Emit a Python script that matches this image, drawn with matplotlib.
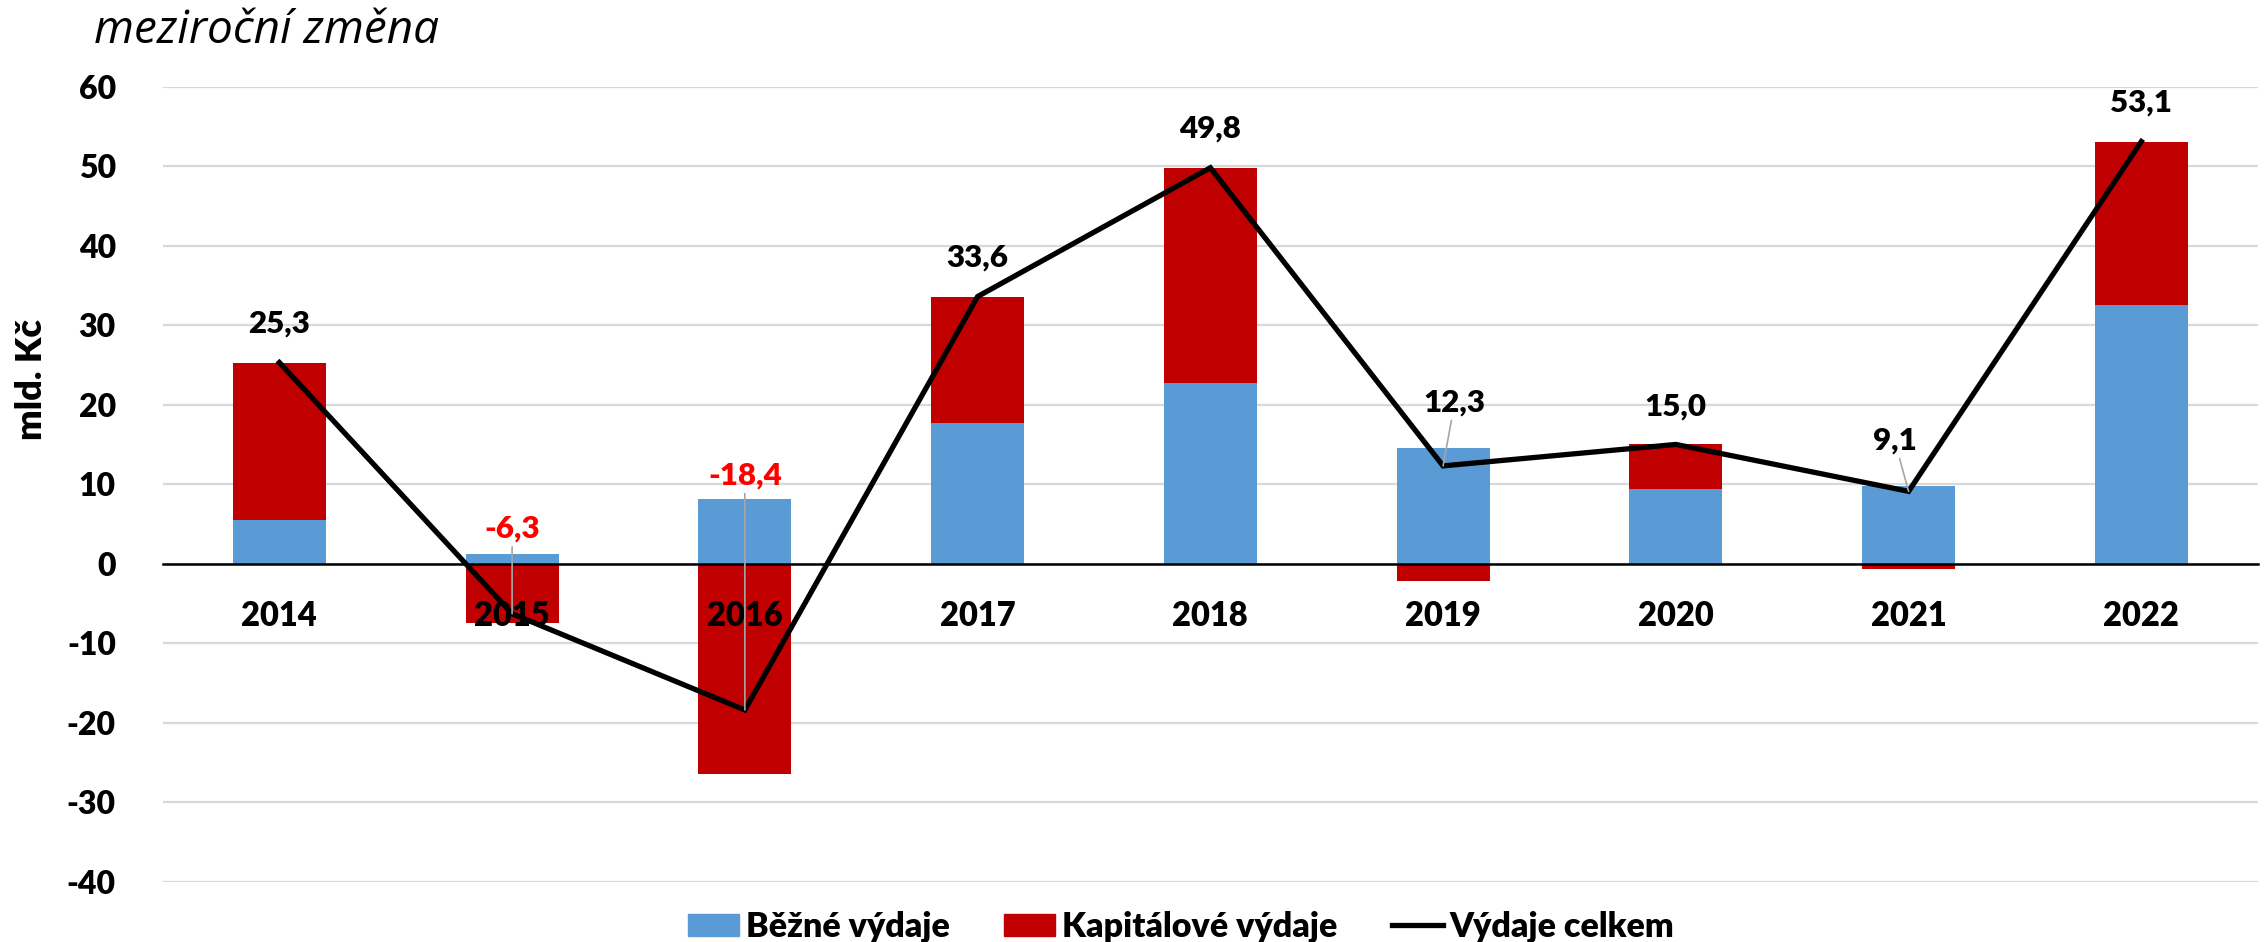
import numpy as np
import matplotlib.pyplot as plt
from matplotlib.patches import Patch
from matplotlib.lines import Line2D

plt.rcParams['font.family'] = ['Lato', 'DejaVu Sans']
plt.rcParams['axes.unicode_minus'] = False

# data (mld. Kč, year-on-year change)
years = ['2014', '2015', '2016', '2017', '2018', '2019', '2020', '2021', '2022']
bezne = [5.5, 1.2, 8.1, 17.7, 22.7, 14.5, 9.4, 9.8, 32.5]
kapitalove = [19.8, -7.5, -26.5, 15.9, 27.1, -2.2, 5.6, -0.7, 20.6]
celkem = [25.3, -6.3, -18.4, 33.6, 49.8, 12.3, 15.0, 9.1, 53.1]

# label placement relative to the line point (dx in categories, dy in data units)
label_dx = [0.0, 0.0, 0.0, 0.0, 0.0, 0.05, 0.0, -0.06, 0.0]
label_dy = [4.9, 10.7, 29.5, 4.9, 4.9, 8.0, 4.8, 6.4, 4.9]
leader = [False, True, True, False, False, True, False, True, False]

BLUE = '#5B9BD5'
RED = '#C00000'
WEIGHT = 'heavy'

fig = plt.figure(figsize=(22.67, 9.42), dpi=100)
ax = fig.add_axes([0.0719, 0.064, 0.924, 0.844])

x = np.arange(len(years))
b = np.array(bezne)
k = np.array(kapitalove)
k_bottom = np.where(np.sign(k) == np.sign(b), b, 0)

ax.set_xlim(-0.5, len(years) - 0.5)
ax.set_ylim(-40, 60)
ax.set_yticks(range(-40, 61, 10))
# gridlines drawn by hand so they sit behind the bars while tick labels stay on top
for t in ax.get_yticks():
    ax.axhline(t, color='#D9D9D9', lw=1.6, zorder=0)

ax.bar(x, b, width=0.4, color=BLUE, zorder=1)
ax.bar(x, k, width=0.4, bottom=k_bottom, color=RED, zorder=1)
ax.plot(x, celkem, color='black', lw=3.8, zorder=3, solid_joinstyle='miter')

for i, v in enumerate(celkem):
    txt = f'{v:.1f}'.replace('.', ',')
    col = '#FF0000' if v < 0 else 'black'
    props = dict(arrowstyle='-', color='#A6A6A6', lw=1.2, shrinkA=1, shrinkB=0) if leader[i] else None
    ax.annotate(txt, xy=(i, v), xytext=(i + label_dx[i], v + label_dy[i]),
                ha='center', va='center', fontsize=22.5, fontweight=WEIGHT,
                color=col, arrowprops=props, zorder=4)

ax.set_xticks(x, years)
ax.spines['bottom'].set_position(('data', 0))
ax.spines['bottom'].set_color('black')
ax.spines['bottom'].set_linewidth(1.8)
for s in ['top', 'right', 'left']:
    ax.spines[s].set_visible(False)
ax.tick_params(axis='x', length=0, pad=26, labelsize=23.5)
ax.tick_params(axis='y', length=0, pad=34, labelsize=23)
for lab in ax.get_xticklabels() + ax.get_yticklabels():
    lab.set_fontweight(WEIGHT)

fig.text(0.0415, 0.954, 'meziroční změna', fontsize=33, style='italic',
         family=['Open Sans', 'DejaVu Sans'], ha='left', va='baseline')
fig.text(0.014, 0.597, 'mld. Kč', rotation=90, fontsize=26, fontweight=WEIGHT,
         ha='center', va='center')

handles = [Patch(color=BLUE, label='Běžné výdaje'),
           Patch(color=RED, label='Kapitálové výdaje'),
           Line2D([], [], color='black', lw=3.8, label='Výdaje celkem')]
fig.legend(handles=handles, loc='center', bbox_to_anchor=(0.521, 0.016), ncol=3,
           frameon=False, prop={'size': 24.5, 'weight': WEIGHT},
           handlelength=1.5, handleheight=0.65, handletextpad=0.2, columnspacing=1.6)

fig.savefig('out.png', dpi=100)
